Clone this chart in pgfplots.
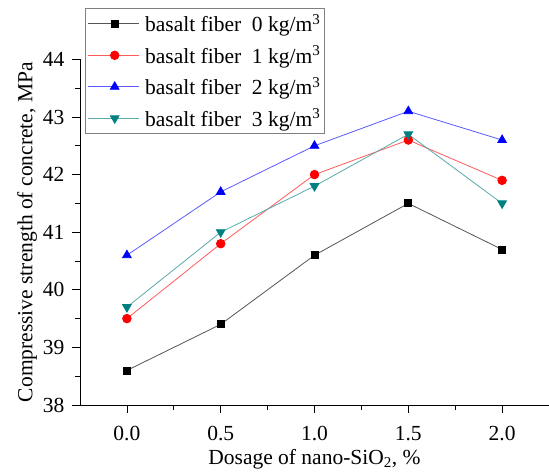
\documentclass[border=0pt]{standalone}
\usepackage{fontspec}
\setmainfont{Liberation Serif}
\usepackage{pgfplots}
\pgfplotsset{compat=1.18}

\newcommand{\fs}{\fontsize{21.5}{25}\selectfont}

\definecolor{tealmark}{RGB}{0,128,128}
\definecolor{tealline}{RGB}{90,170,170}
\definecolor{redline}{RGB}{255,90,90}
\definecolor{blueline}{RGB}{90,90,255}
\definecolor{grayline}{RGB}{85,85,85}

\begin{document}
\begin{tikzpicture}
% fixed canvas around the axis box
\useasboundingbox (-80pt,-68pt) rectangle (469pt,405pt);
\begin{axis}[
  at={(0,0)}, anchor=south west,
  scale only axis,
  width=469pt, height=345.6pt,
  xmin=-0.25, xmax=2.25,
  ymin=38, ymax=44,
  axis x line*=bottom, axis y line*=left,
  axis line style={-, line width=0.8pt},
  xtick={0,0.5,1,1.5,2},
  ytick={38,39,40,41,42,43,44},
  minor x tick num=1, minor y tick num=1,
  tick align=outside,
  major tick length=8pt, minor tick length=5pt,
  tick style={line width=0.8pt, black},
  /pgf/number format/assume math mode=true,
  xticklabel style={font=\fs, yshift=-10pt, /pgf/number format/.cd, fixed, fixed zerofill, precision=1},
  yticklabel style={font=\fs, xshift=-4pt},
  label style={font=\fs},
  xlabel={Dosage of nano-SiO\textsubscript{2}, \%},
  ylabel={Compressive strength of concrete, MPa},
  xlabel style={yshift=-1pt},
  ylabel style={yshift=-1pt},
  legend style={font=\fs, draw=gray, line width=0.6pt,
    at={(0.0107,1.1487)}, anchor=north west,
    row sep=8.5pt, column sep=4pt, inner xsep=2pt, inner ysep=4pt},
  legend cell align=left,
  legend image code/.code={%
    \path (0pt,0pt) -- (51pt,0pt);
    \draw[mark repeat=2, mark phase=2] plot coordinates {(3pt,0pt) (27pt,0pt) (51pt,0pt)};},
]
\addplot[grayline, line width=0.8pt, mark=square*, mark size=3.5pt,
  mark options={fill=black, draw=black}]
  coordinates {(0,38.6) (0.5,39.4) (1,40.6) (1.5,41.5) (2,40.7)};
\addlegendentry{basalt fiber\ \ 0 kg/m\textsuperscript{3}}

\addplot[redline, line width=0.8pt, mark=*, mark size=4.3pt,
  mark options={fill=red, draw=red}]
  coordinates {(0,39.5) (0.5,40.8) (1,42.0) (1.5,42.6) (2,41.9)};
\addlegendentry{basalt fiber\ \ 1 kg/m\textsuperscript{3}}

\addplot[blueline, line width=0.8pt, mark=triangle*, mark size=5pt,
  mark options={fill=blue, draw=blue}]
  coordinates {(0,40.6) (0.5,41.7) (1,42.5) (1.5,43.1) (2,42.6)};
\addlegendentry{basalt fiber\ \ 2 kg/m\textsuperscript{3}}

\addplot[tealline, line width=0.8pt, mark=triangle*, mark size=5pt,
  mark options={fill=tealmark, draw=tealmark, rotate=180}]
  coordinates {(0,39.7) (0.5,41.0) (1,41.8) (1.5,42.7) (2,41.5)};
\addlegendentry{basalt fiber\ \ 3 kg/m\textsuperscript{3}}
\end{axis}
\end{tikzpicture}
\end{document}
